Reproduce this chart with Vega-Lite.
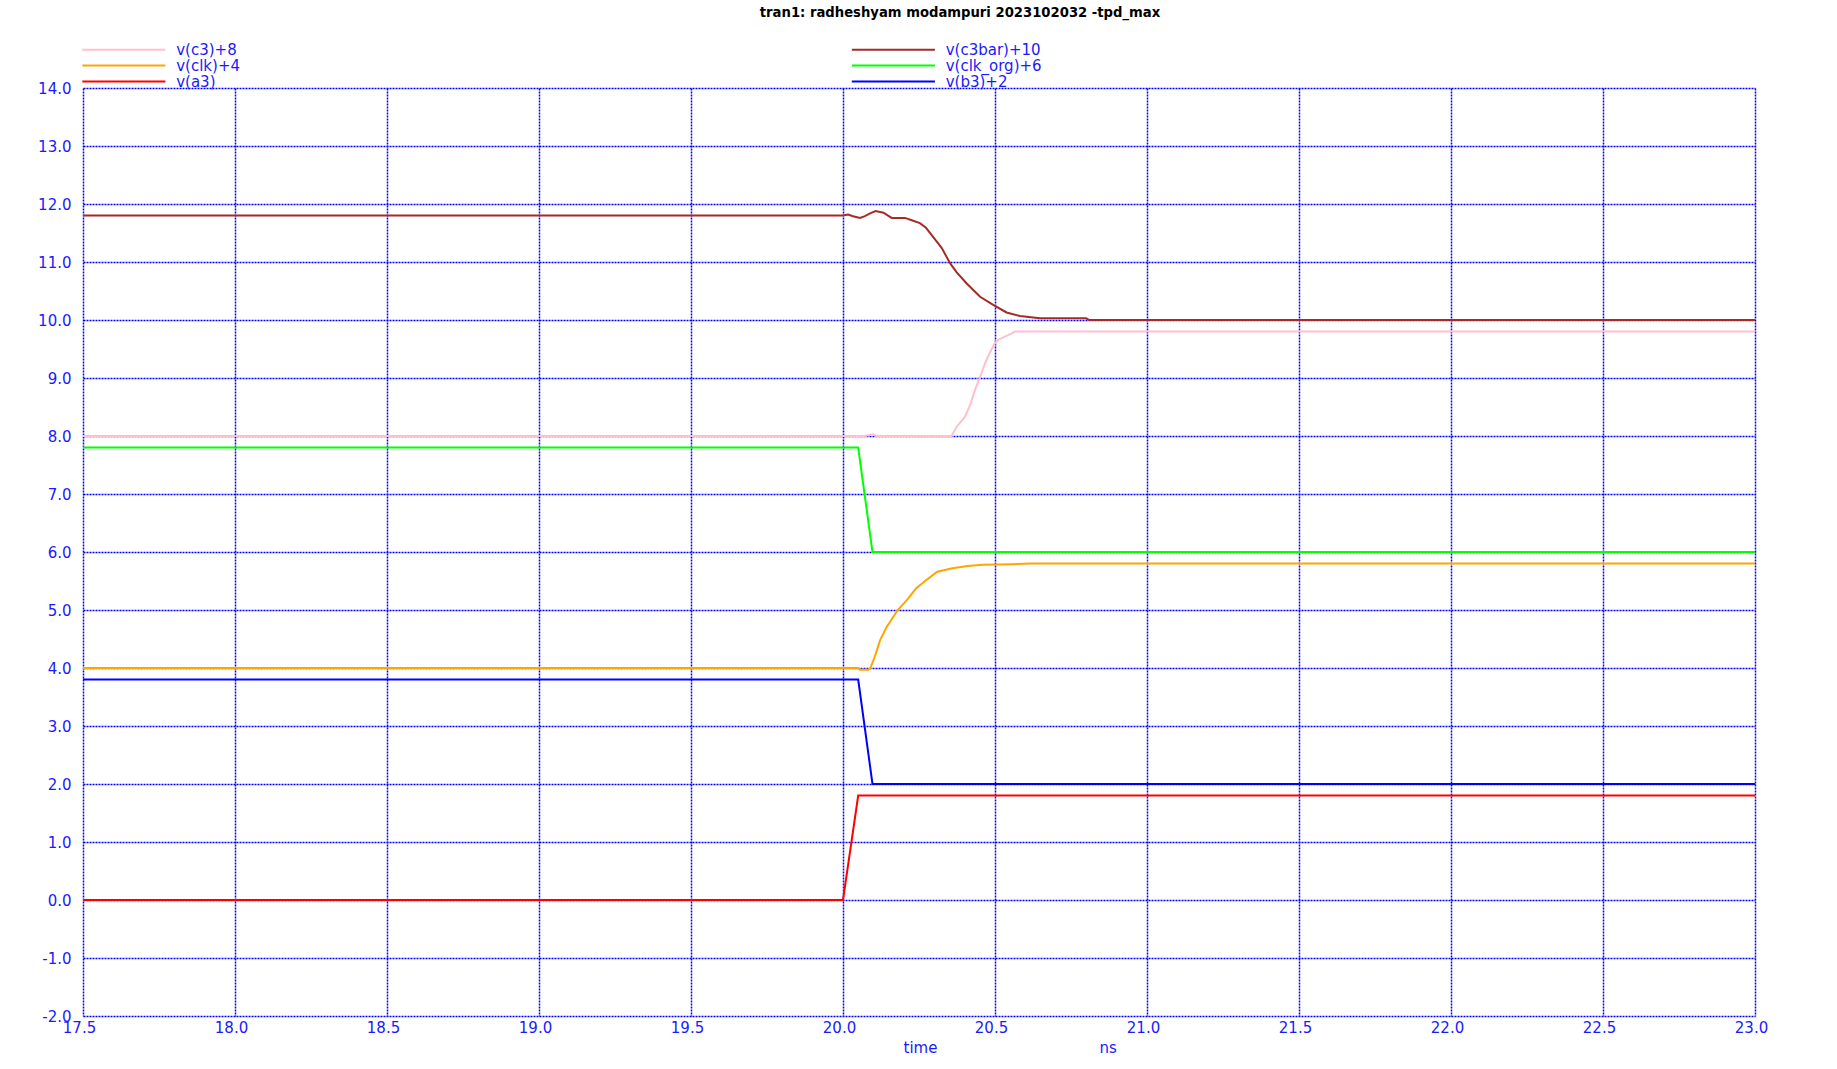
{
  "$schema": "https://vega.github.io/schema/vega-lite/v6.json",
  "autosize": {"type": "none"},
  "padding": {"left": 83, "top": 88, "right": 82, "bottom": 53},
  "width": 1672,
  "height": 928,
  "background": "white",
  "title": {
    "text": "tran1: radheshyam modampuri 2023102032 -tpd_max",
    "font": "DejaVu Sans",
    "fontSize": 13.2,
    "fontWeight": "bold",
    "color": "black",
    "anchor": "middle",
    "frame": "group",
    "dx": 41,
    "offset": 22
  },
  "config": {
    "view": {"stroke": null},
    "axis": {
      "labelFont": "DejaVu Sans",
      "labelFontSize": 15,
      "labelColor": "#1a1aff",
      "titleFont": "DejaVu Sans",
      "titleFontSize": 15,
      "titleColor": "#1a1aff",
      "titleFontWeight": "normal",
      "domain": false,
      "ticks": false,
      "tickSize": 0,
      "grid": true,
      "gridColor": "#0000ff",
      "gridDash": [2, 1],
      "gridWidth": 1.5,
      "gridOpacity": 1
    }
  },
  "datasets": {
    "traces": [
      {"t": 17.5, "v": 0.0, "s": "v(a3)"},
      {"t": 20.0, "v": 0.0, "s": "v(a3)"},
      {"t": 20.05, "v": 1.8, "s": "v(a3)"},
      {"t": 23.0, "v": 1.8, "s": "v(a3)"},

      {"t": 17.5, "v": 3.8, "s": "v(b3)+2"},
      {"t": 20.05, "v": 3.8, "s": "v(b3)+2"},
      {"t": 20.097, "v": 2.0, "s": "v(b3)+2"},
      {"t": 23.0, "v": 2.0, "s": "v(b3)+2"},

      {"t": 17.5, "v": 7.8, "s": "v(clk_org)+6"},
      {"t": 20.05, "v": 7.8, "s": "v(clk_org)+6"},
      {"t": 20.097, "v": 6.0, "s": "v(clk_org)+6"},
      {"t": 23.0, "v": 6.0, "s": "v(clk_org)+6"},

      {"t": 17.5, "v": 4.0, "s": "v(clk)+4"},
      {"t": 20.05, "v": 4.0, "s": "v(clk)+4"},
      {"t": 20.056, "v": 3.97, "s": "v(clk)+4"},
      {"t": 20.083, "v": 3.97, "s": "v(clk)+4"},
      {"t": 20.09, "v": 4.0, "s": "v(clk)+4"},
      {"t": 20.105, "v": 4.2, "s": "v(clk)+4"},
      {"t": 20.122, "v": 4.48, "s": "v(clk)+4"},
      {"t": 20.144, "v": 4.71, "s": "v(clk)+4"},
      {"t": 20.18, "v": 5.0, "s": "v(clk)+4"},
      {"t": 20.21, "v": 5.17, "s": "v(clk)+4"},
      {"t": 20.24, "v": 5.37, "s": "v(clk)+4"},
      {"t": 20.275, "v": 5.52, "s": "v(clk)+4"},
      {"t": 20.31, "v": 5.66, "s": "v(clk)+4"},
      {"t": 20.36, "v": 5.72, "s": "v(clk)+4"},
      {"t": 20.41, "v": 5.76, "s": "v(clk)+4"},
      {"t": 20.46, "v": 5.78, "s": "v(clk)+4"},
      {"t": 20.56, "v": 5.79, "s": "v(clk)+4"},
      {"t": 20.62, "v": 5.8, "s": "v(clk)+4"},
      {"t": 23.0, "v": 5.8, "s": "v(clk)+4"},

      {"t": 17.5, "v": 8.0, "s": "v(c3)+8"},
      {"t": 20.05, "v": 8.0, "s": "v(c3)+8"},
      {"t": 20.06, "v": 7.98, "s": "v(c3)+8"},
      {"t": 20.07, "v": 8.0, "s": "v(c3)+8"},
      {"t": 20.1, "v": 8.03, "s": "v(c3)+8"},
      {"t": 20.11, "v": 8.0, "s": "v(c3)+8"},
      {"t": 20.23, "v": 8.0, "s": "v(c3)+8"},
      {"t": 20.24, "v": 7.99, "s": "v(c3)+8"},
      {"t": 20.34, "v": 7.99, "s": "v(c3)+8"},
      {"t": 20.357, "v": 8.0, "s": "v(c3)+8"},
      {"t": 20.374, "v": 8.16, "s": "v(c3)+8"},
      {"t": 20.401, "v": 8.33, "s": "v(c3)+8"},
      {"t": 20.418, "v": 8.53, "s": "v(c3)+8"},
      {"t": 20.434, "v": 8.79, "s": "v(c3)+8"},
      {"t": 20.451, "v": 9.02, "s": "v(c3)+8"},
      {"t": 20.467, "v": 9.25, "s": "v(c3)+8"},
      {"t": 20.484, "v": 9.45, "s": "v(c3)+8"},
      {"t": 20.5, "v": 9.6, "s": "v(c3)+8"},
      {"t": 20.511, "v": 9.66, "s": "v(c3)+8"},
      {"t": 20.555, "v": 9.77, "s": "v(c3)+8"},
      {"t": 20.565, "v": 9.8, "s": "v(c3)+8"},
      {"t": 23.0, "v": 9.8, "s": "v(c3)+8"},

      {"t": 17.5, "v": 11.8, "s": "v(c3bar)+10"},
      {"t": 20.0, "v": 11.8, "s": "v(c3bar)+10"},
      {"t": 20.017, "v": 11.82, "s": "v(c3bar)+10"},
      {"t": 20.033, "v": 11.79, "s": "v(c3bar)+10"},
      {"t": 20.056, "v": 11.76, "s": "v(c3bar)+10"},
      {"t": 20.072, "v": 11.79, "s": "v(c3bar)+10"},
      {"t": 20.089, "v": 11.84, "s": "v(c3bar)+10"},
      {"t": 20.107, "v": 11.88, "s": "v(c3bar)+10"},
      {"t": 20.133, "v": 11.85, "s": "v(c3bar)+10"},
      {"t": 20.16, "v": 11.76, "s": "v(c3bar)+10"},
      {"t": 20.204, "v": 11.76, "s": "v(c3bar)+10"},
      {"t": 20.226, "v": 11.72, "s": "v(c3bar)+10"},
      {"t": 20.253, "v": 11.67, "s": "v(c3bar)+10"},
      {"t": 20.273, "v": 11.59, "s": "v(c3bar)+10"},
      {"t": 20.297, "v": 11.43, "s": "v(c3bar)+10"},
      {"t": 20.325, "v": 11.24, "s": "v(c3bar)+10"},
      {"t": 20.352, "v": 10.98, "s": "v(c3bar)+10"},
      {"t": 20.374, "v": 10.82, "s": "v(c3bar)+10"},
      {"t": 20.407, "v": 10.63, "s": "v(c3bar)+10"},
      {"t": 20.451, "v": 10.4, "s": "v(c3bar)+10"},
      {"t": 20.494, "v": 10.26, "s": "v(c3bar)+10"},
      {"t": 20.538, "v": 10.13, "s": "v(c3bar)+10"},
      {"t": 20.582, "v": 10.07, "s": "v(c3bar)+10"},
      {"t": 20.648, "v": 10.03, "s": "v(c3bar)+10"},
      {"t": 20.8, "v": 10.03, "s": "v(c3bar)+10"},
      {"t": 20.81, "v": 10.0, "s": "v(c3bar)+10"},
      {"t": 23.0, "v": 10.0, "s": "v(c3bar)+10"}
    ]
  },
  "layer": [
    {
      "mark": {"type": "rule", "color": "#0000ff", "strokeWidth": 2},
      "encoding": {"y": {"datum": 0}}
    },
    {
      "data": {"name": "traces"},
      "mark": {"type": "line", "strokeWidth": 2, "interpolate": "linear"},
      "encoding": {
        "x": {
          "field": "t",
          "type": "quantitative",
          "scale": {"domain": [17.5, 23.0], "nice": false, "zero": false},
          "axis": {
            "values": [17.5, 18.0, 18.5, 19.0, 19.5, 20.0, 20.5, 21.0, 21.5, 22.0, 22.5, 23.0],
            "format": ".1f",
            "labelPadding": 4,
            "labelOffset": -4,
            "labelFlush": false,
            "labelOverlap": false,
            "title": "time\u00a0\u00a0\u00a0\u00a0\u00a0\u00a0\u00a0\u00a0\u00a0\u00a0\u00a0\u00a0\u00a0\u00a0\u00a0\u00a0\u00a0\u00a0\u00a0\u00a0\u00a0\u00a0\u00a0\u00a0\u00a0\u00a0\u00a0\u00a0\u00a0\u00a0\u00a0\u00a0\u00a0\u00a0ns",
            "titleAnchor": "start",
            "titleAlign": "left",
            "titleX": 820,
            "titleY": 31,
            "titleBaseline": "middle"
          }
        },
        "y": {
          "field": "v",
          "type": "quantitative",
          "scale": {"domain": [-2, 14], "nice": false, "zero": false},
          "axis": {
            "values": [-2, -1, 0, 1, 2, 3, 4, 5, 6, 7, 8, 9, 10, 11, 12, 13, 14],
            "format": ".1f",
            "labelExpr": "replace(datum.label, '\u2212', '-')",
            "labelPadding": 12,
            "labelFlush": false,
            "labelOverlap": false,
            "labelBaseline": "middle",
            "title": null
          }
        },
        "color": {
          "field": "s",
          "type": "nominal",
          "scale": {
            "domain": ["v(c3)+8", "v(c3bar)+10", "v(clk)+4", "v(clk_org)+6", "v(a3)", "v(b3)+2"],
            "range": ["#ffc0cb", "#a52a2a", "#ffa500", "#00ff00", "#ff0000", "#0000ff"]
          },
          "legend": {
            "title": null,
            "orient": "none",
            "legendX": -4,
            "legendY": -46,
            "direction": "horizontal",
            "columns": 2,
            "padding": 0,
            "rowPadding": 0,
            "columnPadding": 607.5,
            "symbolType": "M-1,0H19",
            "symbolSize": 69,
            "symbolStrokeWidth": 2,
            "symbolOpacity": 1,
            "labelOffset": 82.2,
            "labelFont": "DejaVu Sans",
            "labelFontSize": 15,
            "labelColor": "#1a1aff",
            "labelLimit": 0
          }
        }
      }
    }
  ]
}
